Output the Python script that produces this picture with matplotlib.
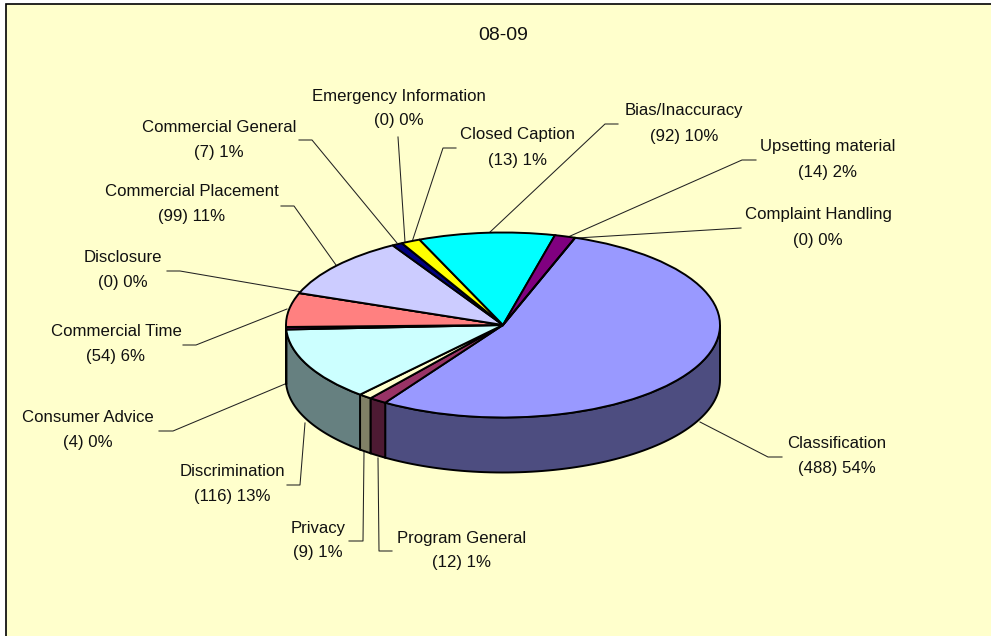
import numpy as np
import matplotlib
matplotlib.use("Agg")
import matplotlib.pyplot as plt
from matplotlib.patches import Polygon, Rectangle

W, H = 991, 636

categories = ["Classification", "Program General", "Privacy", "Discrimination",
              "Consumer Advice", "Commercial Time", "Disclosure",
              "Commercial Placement", "Commercial General",
              "Emergency Information", "Closed Caption", "Bias/Inaccuracy",
              "Upsetting material", "Complaint Handling"]
counts = [488, 12, 9, 116, 4, 54, 0, 99, 7, 0, 13, 92, 14, 0]
colors = ["#9999FF", "#993366", "#FFFFCC", "#CCFFFF", "#660066", "#FF8080",
          "#0066CC", "#CCCCFF", "#000080", "#FF00FF", "#FFFF00", "#00FFFF",
          "#800080", "#800000"]

# label centre (x, y of first line) in pixels
label_pos = [(837, 443), (462, 537), (318, 527), (232, 471), (88, 417),
             (116, 331), (123, 257), (191.5, 191), (219, 126), (398.5, 95),
             (518, 134), (684, 110), (828, 146), (818, 214)]
# leader lines in pixels
leaders = [[(782, 457), (768, 457), (700, 422)],
           [(392, 551), (379, 551), (378, 458)],
           [(349, 541), (363, 541), (364, 452)],
           [(287, 485), (300, 485), (305, 423)],
           [(159, 431), (173, 431), (285, 384)],
           [(183, 345), (196, 345), (287, 309)],
           [(167, 271), (180, 271), (302, 292)],
           [(281, 206), (294, 206), (336, 265)],
           [(299, 140), (312, 140), (397, 243)],
           [(398, 137), (405, 242)],
           [(456, 148), (443, 148), (412, 242)],
           [(618, 124), (605, 124), (489, 233)],
           [(756, 160), (742, 160), (568, 237)],
           [(741, 228), (577, 238)]]

title = "08-09"
start_clockwise = 19.4
cx, cy, rx, ry = 503, 325, 217, 92.5
depth = 55

plt.rcParams["font.family"] = ["Liberation Sans", "DejaVu Sans"]
fig = plt.figure(figsize=(W / 100, H / 100), dpi=100, facecolor="white")

# overlay axes in pixel coordinates for the frame, text and leaders
bg = fig.add_axes([0, 0, 1, 1])
bg.set_xlim(0, W)
bg.set_ylim(H, 0)
bg.axis("off")
bg.add_patch(Rectangle((6, 4), W + 20, H + 20, fc="#FFFFCC", ec="black", lw=1.2))

for line in leaders:
    xs = [p[0] for p in line]
    ys = [p[1] for p in line]
    bg.plot(xs, ys, color="#222222", lw=0.75, zorder=1)

# pie axes: radius 1 in both directions, squashed into an ellipse
ax = fig.add_axes([(cx - rx) / W, 1 - (cy + ry) / H, 2 * rx / W, 2 * ry / H])
wedges, _ = ax.pie(counts, colors=colors, startangle=90 - start_clockwise,
                   counterclock=False, radius=1,
                   wedgeprops={"edgecolor": "black", "linewidth": 1.4})
ax.set_aspect("auto")
ax.set_xlim(-1, 1)
ax.set_ylim(-1, 1)
ax.patch.set_alpha(0)
for w in wedges:
    w.set_clip_on(False)
    w.set_zorder(5)

# side wall of the visible front half, same colours at half brightness
drop = depth / ry
edges = start_clockwise + np.cumsum([0] + counts) / sum(counts) * 360
for i in range(len(counts)):
    a1 = max(edges[i], 90)
    a2 = min(edges[i + 1], 270)
    if a2 <= a1:
        continue
    t = np.radians(np.linspace(a1, a2, 80))
    x = np.sin(t)
    y = np.cos(t)
    pts = np.r_[np.c_[x, y], np.c_[x[::-1], y[::-1] - drop]]
    rgb = np.array(matplotlib.colors.to_rgb(colors[i])) * 0.5
    ax.add_patch(Polygon(pts, closed=True, fc=rgb, ec="black", lw=1.4,
                         clip_on=False, zorder=3))

fs = 12.1
bg.text(503, 35, title, ha="center", va="center", fontsize=14, color="#111111")
total = sum(counts)
for name, n, (lx, ly) in zip(categories, counts, label_pos):
    pct = round(100 * n / total)
    bg.text(lx, ly + 1, name, ha="center", va="center", fontsize=fs, color="#111111")
    bg.text(lx, ly + 26, f"({n}) {pct}%", ha="center", va="center", fontsize=fs,
            color="#111111")

fig.savefig("out.png", dpi=100)
plt.close(fig)
